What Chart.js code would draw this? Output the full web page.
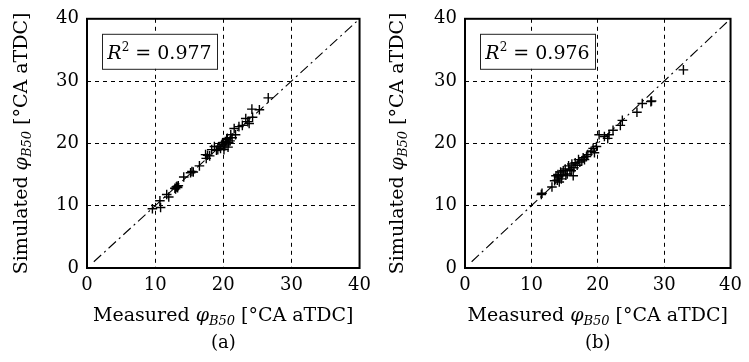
<!DOCTYPE html>
<html>
<head>
<meta charset="utf-8">
<script src="https://cdn.jsdelivr.net/npm/chart.js@4/dist/chart.umd.min.js"></script>
<style>
    html, body { margin: 0; padding: 0; background: #fff; }
    #wrap { position: relative; width: 749px; height: 362px; }
    canvas { position: absolute; top: 0; }
    #chartA { left: 0; }
    #chartB { left: 378px; }
</style>
</head>
<body>
<div id="wrap">
    <canvas id="chartA" width="378" height="362"></canvas>
    <canvas id="chartB" width="371" height="362"></canvas>
</div>
<script>
// Panel (a)
const measuredA = [9.6, 10.7, 10.8, 11.7, 12.0, 12.9, 13.1, 13.2, 13.3, 13.0, 13.4, 14.2, 15.2, 15.4, 15.6,
    16.5, 17.5, 17.7, 17.4, 18.0, 18.3, 18.7, 19.0, 19.2, 19.4, 19.6, 19.8, 19.9, 20.1, 20.2, 20.3, 20.4,
    20.5, 20.6, 20.7, 20.8, 21.0, 21.1, 21.3, 21.6, 21.8, 22.3, 22.8, 23.3, 23.6, 23.8, 24.2, 24.3, 25.3, 26.6];
const simulatedA = [9.5, 10.8, 9.7, 11.8, 11.4, 12.8, 13.0, 13.1, 12.9, 12.7, 13.2, 14.6, 15.3, 15.5, 15.4,
    16.4, 17.6, 18.1, 18.2, 18.0, 19.0, 19.5, 18.9, 19.0, 19.5, 19.2, 19.8, 20.1, 19.0, 19.6, 20.3, 19.9,
    20.6, 20.8, 19.4, 20.1, 20.4, 21.4, 20.9, 22.4, 21.4, 22.7, 22.9, 24.0, 23.5, 23.2, 25.5, 24.2, 25.4, 27.3];

// Panel (b)
const measuredB = [11.5, 11.6, 13.1, 13.5, 13.7, 13.9, 14.0, 14.1, 14.2, 14.4, 14.5, 14.6, 14.8, 15.1, 15.2,
    15.4, 15.6, 15.8, 16.0, 16.1, 16.3, 16.4, 16.6, 16.9, 17.1, 17.3, 17.6, 17.8, 18.0, 18.3, 18.5, 19.0,
    19.3, 19.5, 19.8, 20.2, 21.0, 21.5, 21.7, 22.3, 23.4, 23.7, 25.9, 26.7, 28.0, 28.1, 32.9];
const simulatedB = [11.8, 12.0, 13.0, 14.0, 14.8, 14.1, 15.0, 14.6, 13.8, 15.4, 14.3, 14.8, 15.6, 15.9, 14.9,
    15.1, 16.4, 15.8, 15.6, 16.7, 14.8, 16.1, 16.9, 16.5, 17.4, 17.0, 17.2, 17.7, 17.4, 17.9, 18.2, 18.75,
    19.2, 18.5, 19.5, 21.4, 21.1, 20.8, 21.4, 22.1, 22.9, 23.7, 25.0, 26.4, 26.7, 26.8, 31.8];

const tickValues = [0, 10, 20, 30, 40];
const diagonal = [1, 40];
const r2Values = ['0.977', '0.976'];
const panelLabels = ['(a)', '(b)'];

const SERIF = '"DejaVu Serif", "Liberation Serif", serif';

// draw a run of differently styled text pieces, centred on x
function drawRich(ctx, parts, x, y) {
    let total = 0;
    parts.forEach(p => { ctx.font = p.font; total += ctx.measureText(p.text).width; });
    let cx = x - total / 2;
    ctx.textAlign = 'left';
    ctx.textBaseline = 'alphabetic';
    parts.forEach(p => {
        ctx.font = p.font;
        ctx.fillText(p.text, cx, y + (p.dy || 0));
        cx += ctx.measureText(p.text).width;
    });
}

function axisTitle(prefix) {
    return [
        { text: prefix + ' ', font: `19px ${SERIF}` },
        { text: 'φ', font: `italic 19px ${SERIF}` },
        { text: 'B50', font: `italic 13px ${SERIF}`, dy: 4 },
        { text: ' [°CA aTDC]', font: `19px ${SERIF}` }
    ];
}

const framePlugin = {
    id: 'frame',
    afterDraw(chart, args, opts) {
        const { ctx, chartArea: a } = chart;
        ctx.save();

        // R^2 box
        const bx = a.left + 15, by = a.top + 15, bw = 115, bh = 35;
        ctx.fillStyle = '#fff';
        ctx.fillRect(bx, by, bw, bh);
        ctx.strokeStyle = '#222';
        ctx.lineWidth = 1;
        ctx.strokeRect(bx + 0.5, by + 0.5, bw, bh);
        ctx.fillStyle = '#000';
        drawRich(ctx, [
            { text: 'R', font: `italic 19px ${SERIF}` },
            { text: '2', font: `12px ${SERIF}`, dy: -8 },
            { text: ' = ' + opts.r2, font: `19px ${SERIF}` }
        ], bx + bw / 2, by + 25);

        // plot frame
        ctx.strokeStyle = '#000';
        ctx.lineWidth = 2;
        ctx.strokeRect(a.left, a.top, a.right - a.left, a.bottom - a.top);

        // x title and panel label
        const midX = (a.left + a.right) / 2;
        drawRich(ctx, axisTitle('Measured'), midX, 321);
        drawRich(ctx, [{ text: opts.label, font: `18px ${SERIF}` }], midX, 348);

        // y title
        ctx.translate(opts.yTitleX, (a.top + a.bottom) / 2);
        ctx.rotate(-Math.PI / 2);
        drawRich(ctx, axisTitle('Simulated'), 0, 0);
        ctx.restore();
    }
};

function createPanel(canvasId, measured, simulated, r2, label, rightPad, yTitleX) {
    const points = measured.map((m, i) => ({ x: m, y: simulated[i] }));
    const line = diagonal.map(v => ({ x: v, y: v }));

    const gridColor = (c) => (c.tick && (c.tick.value === 0 || c.tick.value === 40)) ? 'rgba(0,0,0,0)' : '#000';

    const ctx = document.getElementById(canvasId).getContext('2d');
    return new Chart(ctx, {
        type: 'scatter',
        data: {
            datasets: [
                {
                    data: line,
                    type: 'line',
                    showLine: true,
                    borderColor: '#000',
                    borderWidth: 1.1,
                    borderDash: [10, 4, 2, 4],
                    pointRadius: 0,
                    fill: false
                },
                {
                    data: points,
                    pointStyle: 'cross',
                    pointRadius: 4.8,
                    pointBorderWidth: 1.4,
                    borderColor: '#000',
                    backgroundColor: '#000'
                }
            ]
        },
        options: {
            responsive: false,
            animation: false,
            layout: { padding: { top: 13, right: rightPad, left: 0, bottom: 0 } },
            plugins: {
                legend: { display: false },
                tooltip: { enabled: false },
                frame: { r2, label, yTitleX }
            },
            scales: {
                x: {
                    type: 'linear',
                    min: 0,
                    max: 40,
                    afterBuildTicks: (s) => { s.ticks = tickValues.map(v => ({ value: v })); },
                    afterFit: (s) => { s.height = 94; },
                    ticks: { color: '#000', font: { family: SERIF, size: 18 }, padding: 7, maxRotation: 0 },
                    grid: { color: gridColor, lineWidth: 1, drawTicks: false },
                    border: { display: false, dash: [4, 4] }
                },
                y: {
                    type: 'linear',
                    min: 0,
                    max: 40,
                    afterBuildTicks: (s) => { s.ticks = tickValues.map(v => ({ value: v })); },
                    afterFit: (s) => { s.width = 87; },
                    ticks: { color: '#000', font: { family: SERIF, size: 18 }, padding: 8 },
                    grid: { color: gridColor, lineWidth: 1, drawTicks: false },
                    border: { display: false, dash: [4, 4] }
                }
            }
        },
        plugins: [framePlugin]
    });
}

createPanel('chartA', measuredA, simulatedA, r2Values[0], panelLabels[0], 17, 27);
createPanel('chartB', measuredB, simulatedB, r2Values[1], panelLabels[1], 11, 25);
</script>
</body>
</html>
